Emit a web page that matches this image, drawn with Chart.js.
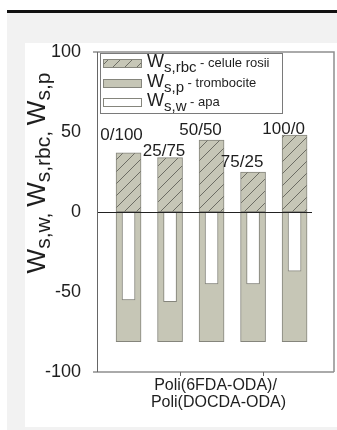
<!DOCTYPE html>
<html>
<head>
<meta charset="utf-8">
<script src="https://cdn.jsdelivr.net/npm/chart.js@4.4.0/dist/chart.umd.min.js"></script>
<style>
  html, body { margin: 0; padding: 0; background: #fff; }
  #wrap { position: relative; width: 337px; height: 430px; overflow: hidden; }
  #topline { position: absolute; left: 7px; top: 10px; width: 330px; height: 3px; background: #111; }
  #grey { position: absolute; left: 7px; top: 13px; width: 330px; height: 417px; background: #f2f2f2; }
  #panel { position: absolute; left: 25px; top: 43px; width: 312px; height: 384px; background: #fff; }
  canvas { position: absolute; left: 0; top: 0; }
</style>
</head>
<body>
<div id="wrap">
  <div id="topline"></div>
  <div id="grey"></div>
  <div id="panel"></div>
  <canvas id="chart" width="337" height="430"></canvas>
</div>
<script>
// compozitie Poli(6FDA-ODA)/Poli(DOCDA-ODA)
const categories = ["0/100", "25/75", "50/50", "75/25", "100/0"];
const xPositions = [1, 2, 3, 4, 5];
const rbcValues = [37, 34, 45, 25, 48];
const plateletValues = [-81, -81, -81, -81, -81];
const waterValues = [-55, -56, -45, -45, -37];
const yTicks = [100, 50, 0, -50, -100];
const xTickValues = [2.24, 4.24];

const seriesSub = ["s,rbc", "s,p", "s,w"];
const seriesDesc = ["celule rosii", "trombocite", "apa"];
const xTitle = ["Poli(6FDA-ODA)/", "Poli(DOCDA-ODA)"];

const FONT = "'Liberation Sans', Arial, sans-serif";
const GRAY = "#c6c6b6";
const EDGE = "#85857c";
const TEXT = "#1e1e1e";

// offsets of the composition labels from the top of each bar (px)
const labelOffsets = [[-7, -17], [-6, -6], [-11, -10], [-11, -10], [-11, -6]];

function makeHatch() {
  const s = 12;
  const c = document.createElement("canvas");
  c.width = s;
  c.height = s;
  const g = c.getContext("2d");
  g.fillStyle = GRAY;
  g.fillRect(0, 0, s, s);
  g.strokeStyle = "#6c6c63";
  g.lineWidth = 1;
  g.beginPath();
  g.moveTo(-1, s + 1); g.lineTo(s + 1, -1);
  g.moveTo(-1, 1); g.lineTo(1, -1);
  g.moveTo(s - 1, s + 1); g.lineTo(s + 1, s - 1);
  g.stroke();
  return g.createPattern(c, "repeat");
}
const hatch = makeHatch();

function pts(values) {
  return xPositions.map((x, i) => ({x: x, y: values[i]}));
}

function drawW(ctx, x, y, main, sub, mainSize, subSize, drop) {
  ctx.font = mainSize + "px " + FONT;
  ctx.fillText(main, x, y);
  x += ctx.measureText(main).width;
  ctx.font = subSize + "px " + FONT;
  ctx.fillText(sub, x, y + drop);
  return x + ctx.measureText(sub).width;
}

const extras = {
  id: "extras",
  afterDatasetsDraw(chart) {
    const ctx = chart.ctx;
    const a = chart.chartArea;
    const xs = chart.scales.x;
    const ys = chart.scales.y;
    ctx.save();

    // zero line
    const y0 = ys.getPixelForValue(0);
    ctx.strokeStyle = "#222";
    ctx.lineWidth = 1;
    ctx.beginPath();
    ctx.moveTo(a.left, y0 + 0.5);
    ctx.lineTo(a.right - 22, y0 + 0.5);
    ctx.stroke();

    // frame
    ctx.strokeStyle = "#8e8e8e";
    ctx.lineWidth = 1.5;
    ctx.beginPath();
    ctx.moveTo(a.left - 4, a.top);
    ctx.lineTo(a.right, a.top);
    ctx.lineTo(a.right, a.bottom);
    ctx.moveTo(a.left - 4, a.bottom);
    ctx.lineTo(a.right, a.bottom);
    ctx.stroke();
    ctx.strokeStyle = "#666";
    ctx.lineWidth = 1;
    ctx.beginPath();
    ctx.moveTo(a.left + 0.5, a.top);
    ctx.lineTo(a.left + 0.5, a.bottom);
    xTickValues.forEach(v => {
      const px = Math.round(xs.getPixelForValue(v)) + 0.5;
      ctx.moveTo(px, a.bottom);
      ctx.lineTo(px, a.bottom + 4);
    });
    ctx.stroke();

    // composition labels
    ctx.fillStyle = TEXT;
    ctx.font = "17px " + FONT;
    ctx.textAlign = "center";
    ctx.textBaseline = "middle";
    categories.forEach((lab, i) => {
      const px = xs.getPixelForValue(xPositions[i]) + labelOffsets[i][0];
      const py = ys.getPixelForValue(rbcValues[i]) + labelOffsets[i][1];
      ctx.fillText(lab, px, py);
    });

    // x title
    ctx.font = "16px " + FONT;
    const cx = (a.left + a.right) / 2;
    ctx.fillText(xTitle[0], cx, a.bottom + 14);
    ctx.fillText(xTitle[1], cx + 3, a.bottom + 31);

    // legend
    const lx = a.left + 3, ly = a.top + 1;
    ctx.fillStyle = "#fff";
    ctx.fillRect(lx, ly, 182, 60);
    ctx.strokeStyle = "#7a7a7a";
    ctx.lineWidth = 1;
    ctx.strokeRect(lx + 0.5, ly + 0.5, 182, 60);
    const fills = [hatch, GRAY, "#fff"];
    ctx.textAlign = "left";
    ctx.textBaseline = "alphabetic";
    [10, 30, 49].forEach((dy, i) => {
      const cy = ly + dy;
      ctx.fillStyle = fills[i];
      ctx.fillRect(lx + 3, cy - 4, 39, 9);
      ctx.strokeStyle = EDGE;
      ctx.strokeRect(lx + 3.5, cy - 3.5, 38, 8);
      ctx.fillStyle = TEXT;
      let tx = drawW(ctx, lx + 47, cy + 4, "W", seriesSub[i], 18, 15, 5);
      ctx.font = "13px " + FONT;
      ctx.fillText(" - " + seriesDesc[i], tx, cy + 4);
    });

    // y title
    ctx.translate(45, 173);
    ctx.rotate(-Math.PI / 2);
    const parts = [["W", "s,w, "], ["W", "s,rbc, "], ["W", "s,p"]];
    let total = 0;
    parts.forEach(p => {
      ctx.font = "26px " + FONT;
      total += ctx.measureText(p[0]).width;
      ctx.font = "21px " + FONT;
      total += ctx.measureText(p[1]).width;
    });
    let tx = -total / 2;
    parts.forEach(p => {
      tx = drawW(ctx, tx, 0, p[0], p[1], 26, 21, 5);
    });
    ctx.restore();
  }
};

const config = {
  type: "bar",
  data: {
    datasets: [
      {
        label: "Ws,w",
        data: pts(waterValues),
        backgroundColor: "#ffffff",
        borderColor: EDGE,
        borderWidth: 1,
        borderSkipped: false,
        barThickness: 13,
        grouped: false,
      },
      {
        label: "Ws,p",
        data: pts(plateletValues),
        backgroundColor: GRAY,
        borderColor: EDGE,
        borderWidth: 1,
        borderSkipped: false,
        barThickness: 25,
        grouped: false,
      },
      {
        label: "Ws,rbc",
        data: pts(rbcValues),
        backgroundColor: hatch,
        borderColor: EDGE,
        borderWidth: 1,
        borderSkipped: false,
        barThickness: 25,
        grouped: false,
      },
    ],
  },
  options: {
    responsive: false,
    animation: false,
    devicePixelRatio: 1,
    layout: {
      padding: {left: 0, right: 3, top: 52, bottom: 58},
    },
    plugins: {
      legend: {display: false},
      tooltip: {enabled: false},
    },
    scales: {
      x: {
        type: "linear",
        min: 0.24,
        max: 5.95,
        offset: false,
        display: false,
      },
      y: {
        min: -100,
        max: 100,
        afterBuildTicks: scale => {
          scale.ticks = yTicks.map(v => ({value: v}));
        },
        afterFit: scale => {
          scale.width = 97;
        },
        grid: {display: false},
        border: {display: false},
        ticks: {
          padding: 8,
          color: TEXT,
          font: {family: FONT, size: 18},
        },
      },
    },
  },
  plugins: [extras],
};

new Chart(document.getElementById("chart"), config);
</script>
</body>
</html>
